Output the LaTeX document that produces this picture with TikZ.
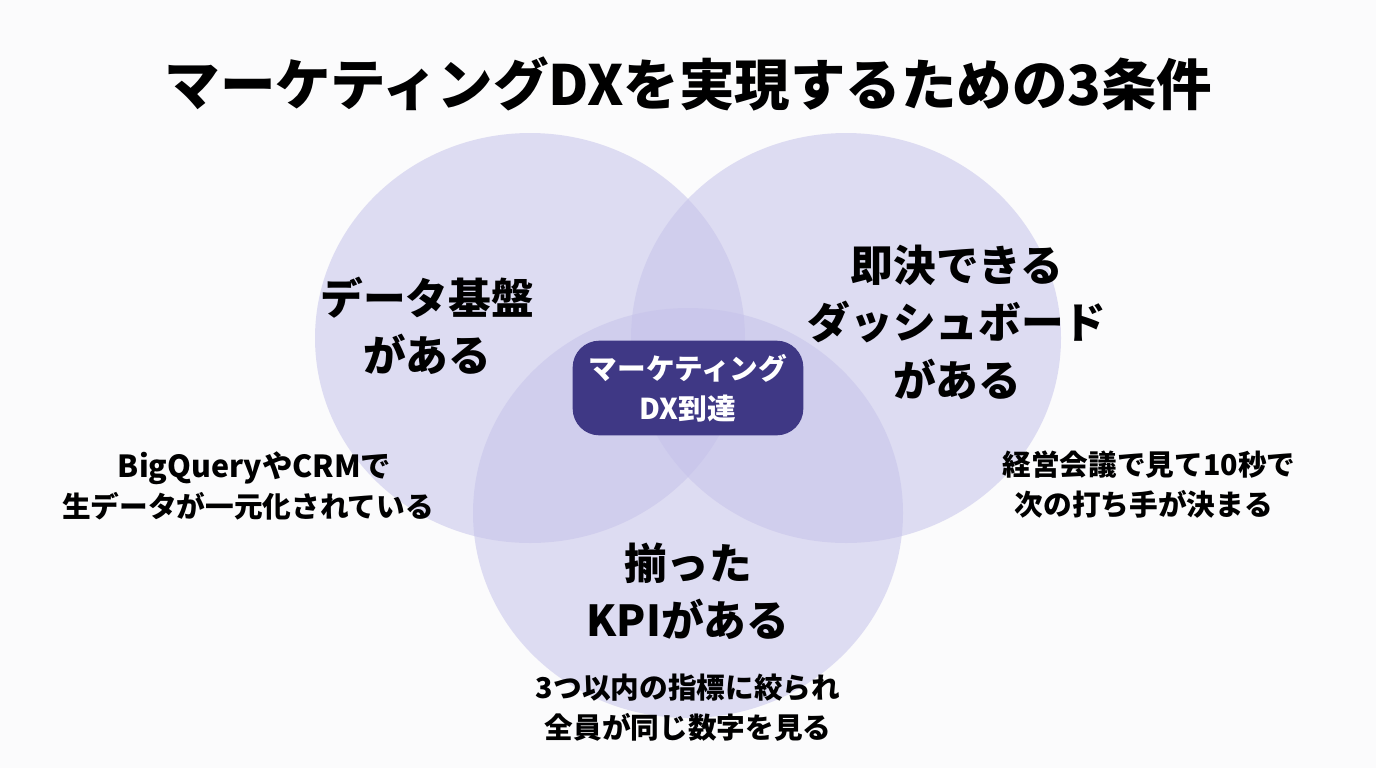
\documentclass[tikz,border=0pt]{standalone}
\usepackage{fontspec}
\usetikzlibrary{shapes.geometric}
\setmainfont{Noto Sans CJK JP}[BoldFont={Noto Sans CJK JP Black}]
\definecolor{bgc}{HTML}{FBFBFC}
\definecolor{circ}{HTML}{C6C3EA}
\definecolor{hub}{HTML}{3F3885}
\tikzset{
 px/.style={x=0.75pt,y=-0.75pt},
 venn/.style={fill=circ,fill opacity=0.55,draw=none,ellipse,minimum width=322.5pt,minimum height=307.5pt,inner sep=0pt},
 head/.style={font=\fontsize{32pt}{43pt}\bfseries,align=center,text=black},
 note/.style={font=\fontsize{21.5pt}{30pt}\bfseries,align=center,text=black},
 ttl/.style={font=\fontsize{41.6pt}{56pt}\bfseries,text=black},
 hubn/.style={fill=hub,rounded corners=20pt,minimum width=173pt,minimum height=71pt,inner sep=0pt,text=white,align=center,font=\fontsize{21.5pt}{30pt}\bfseries}
}
\begin{document}
\begin{tikzpicture}[px]
\path[use as bounding box,fill=bgc] (0,0) rectangle (1376,768);
\node[ttl] (title) at (688.5,84) {マーケティングDXを実現するための3条件};
\node[venn] (a) at (530,338) {};
\node[venn] (b) at (846,338) {};
\node[venn] (c) at (688,513) {};
\node[hubn] (hub) at (688,388) {マーケティング\\DX到達};
\node[head] (ha) at (427,326) {データ基盤\\がある};
\node[head] (hb) at (957,322) {即決できる\\ダッシュボード\\がある};
\node[head] (hc) at (688,591) {揃った\\KPIがある};
\node[note] (na) at (248,486) {{\fontsize{22.8pt}{30pt}\selectfont BigQueryやCRMで}\hspace*{-10pt}\\生データが一元化されている};
\node[note] (nb) at (1149,485) {経営会議で見て10秒で\\次の打ち手が決まる\hspace*{8pt}};
\node[note] (nc) at (688,708) {3つ以内の指標に絞られ\\全員が同じ数字を見る};
\end{tikzpicture}
\end{document}
